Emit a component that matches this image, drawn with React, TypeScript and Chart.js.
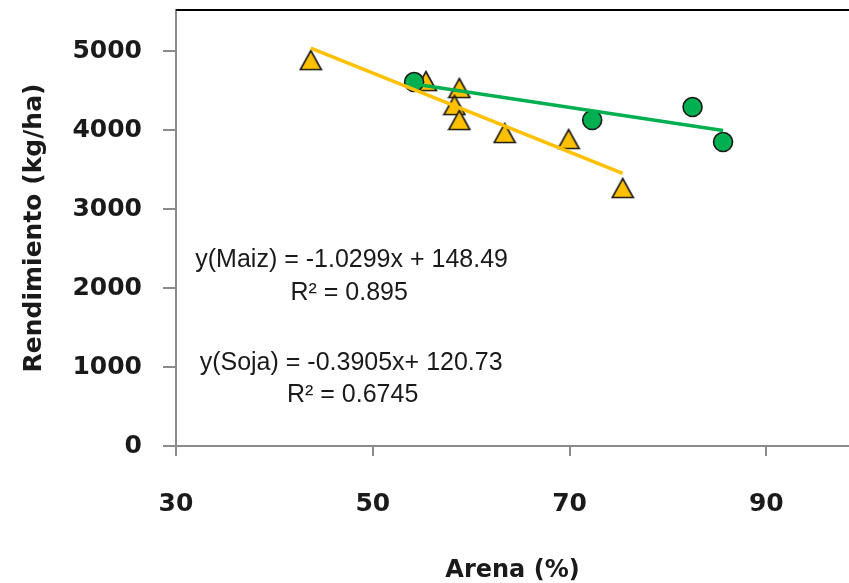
import React, { useEffect, useRef } from "react";
import { Chart, registerables } from "chart.js";

Chart.register(...registerables);

// Maiz (triangles)
const maizX = [43.7, 55.4, 58.8, 58.3, 58.8, 63.4, 69.9, 75.4];
const maizY = [4886, 4620, 4532, 4316, 4127, 3962, 3886, 3266];
// Soja (circles)
const sojaX = [54.2, 72.3, 82.5, 85.6];
const sojaY = [4608, 4127, 4291, 3848];

const xTicks = [30, 50, 70, 90];
const yTicks = [0, 1000, 2000, 3000, 4000, 5000];

const eqTexts = [
  "y(Maiz) = -1.0299x + 148.49",
  "R² = 0.895",
  "y(Soja) = -0.3905x+ 120.73",
  "R² = 0.6745",
];
const eqX = [47.85, 47.6, 47.8, 47.95];
const eqY = [2354, 1937, 1051, 646];

const X_MIN = 30;
const X_MAX = 98.4;
const Y_MIN = 0;
const Y_MAX = 5520;

function fitLine(xs: number[], ys: number[]) {
  const n = xs.length;
  const mx = xs.reduce((a, b) => a + b, 0) / n;
  const my = ys.reduce((a, b) => a + b, 0) / n;
  let sxy = 0;
  let sxx = 0;
  for (let i = 0; i < n; i++) {
    sxy += (xs[i] - mx) * (ys[i] - my);
    sxx += (xs[i] - mx) * (xs[i] - mx);
  }
  const b = sxy / sxx;
  const a = my - b * mx;
  const x0 = Math.min(...xs);
  const x1 = Math.max(...xs);
  return [
    { x: x0, y: a + b * x0 },
    { x: x1, y: a + b * x1 },
  ];
}

function makeTriangle(): HTMLCanvasElement {
  const c = document.createElement("canvas");
  c.width = 24;
  c.height = 22;
  const g = c.getContext("2d")!;
  g.beginPath();
  g.moveTo(12, 1.5);
  g.lineTo(22.5, 20.5);
  g.lineTo(1.5, 20.5);
  g.closePath();
  g.fillStyle = "#FFC000";
  g.fill();
  g.lineWidth = 1.6;
  g.strokeStyle = "#1a1a1a";
  g.lineJoin = "miter";
  g.stroke();
  return c;
}

const annotPlugin = {
  id: "annot",
  afterDraw(chart: any) {
    const { ctx, chartArea, scales } = chart;
    ctx.save();
    ctx.strokeStyle = "#000";
    ctx.lineWidth = 2;
    ctx.beginPath();
    ctx.moveTo(chartArea.left, chartArea.top);
    ctx.lineTo(chartArea.right, chartArea.top);
    ctx.stroke();
    ctx.font = '25px "Liberation Sans"';
    ctx.fillStyle = "#1a1a1a";
    ctx.textAlign = "center";
    ctx.textBaseline = "middle";
    for (let i = 0; i < eqTexts.length; i++) {
      ctx.fillText(
        eqTexts[i],
        scales.x.getPixelForValue(eqX[i]),
        scales.y.getPixelForValue(eqY[i])
      );
    }
    ctx.restore();
  },
};

export default function App() {
  const ref = useRef<HTMLCanvasElement | null>(null);
  useEffect(() => {
    if (!ref.current) return;
    const tri = makeTriangle();
    const tickFont = { family: "DejaVu Sans", weight: "bold" as const, size: 25 };
    const chart = new Chart(ref.current, {
      type: "scatter",
      data: {
        datasets: [
          {
            label: "Tendencia Soja",
            data: fitLine(sojaX, sojaY),
            showLine: true,
            borderColor: "#00B050",
            borderWidth: 3.5,
            pointRadius: 0,
            order: 0,
          },
          {
            label: "Tendencia Maiz",
            data: fitLine(maizX, maizY),
            showLine: true,
            borderColor: "#FFC000",
            borderWidth: 3.5,
            pointRadius: 0,
            order: 1,
          },
          {
            label: "Soja",
            data: sojaX.map((x, i) => ({ x, y: sojaY[i] })),
            pointStyle: "circle",
            pointRadius: 9.5,
            backgroundColor: "#00B050",
            borderColor: "#1a1a1a",
            borderWidth: 1.6,
            order: 2,
          },
          {
            label: "Maiz",
            data: maizX.map((x, i) => ({ x, y: maizY[i] })),
            pointStyle: tri as any,
            pointRadius: 10,
            order: 3,
          },
        ],
      },
      options: {
        responsive: false,
        animation: false,
        events: [],
        layout: { autoPadding: false, padding: { top: 10, left: 0, right: 0, bottom: 0 } },
        plugins: {
          legend: { display: false },
          tooltip: { enabled: false },
        },
        scales: {
          x: {
            type: "linear",
            min: X_MIN,
            max: X_MAX,
            afterBuildTicks: (s: any) => {
              s.ticks = xTicks.map((v) => ({ value: v }));
            },
            afterFit: (s: any) => {
              s.height = 137;
              s.paddingLeft = 0;
              s.paddingRight = 0;
            },
            grid: {
              display: true,
              drawOnChartArea: false,
              drawTicks: true,
              tickLength: 10,
              color: "#8a8a8a",
              lineWidth: 2,
            },
            border: { display: true, color: "#8a8a8a", width: 2 },
            ticks: {
              font: tickFont,
              color: "#1a1a1a",
              padding: 33,
              maxRotation: 0,
              autoSkip: false,
              callback: (v: any) => String(v),
            },
            title: {
              display: true,
              text: "Arena (%)",
              font: { family: "DejaVu Sans", weight: "bold", size: 24, lineHeight: 1 },
              color: "#1a1a1a",
              padding: { top: 0, bottom: 0 },
            },
          },
          y: {
            type: "linear",
            min: Y_MIN,
            max: Y_MAX,
            afterBuildTicks: (s: any) => {
              s.ticks = yTicks.map((v) => ({ value: v }));
            },
            afterFit: (s: any) => {
              s.width = 176;
              s.paddingTop = 0;
              s.paddingBottom = 0;
            },
            grid: {
              display: true,
              drawOnChartArea: false,
              drawTicks: true,
              tickLength: 13,
              color: "#8a8a8a",
              lineWidth: 2,
            },
            border: { display: true, color: "#8a8a8a", width: 2 },
            ticks: {
              font: tickFont,
              color: "#1a1a1a",
              padding: 21,
              autoSkip: false,
              callback: (v: any) => String(v),
            },
            title: {
              display: true,
              text: "Rendimiento (kg/ha)",
              font: { family: "DejaVu Sans", weight: "bold", size: 25, lineHeight: 1 },
              color: "#1a1a1a",
              padding: { top: 22, bottom: 0 },
            },
          },
        },
      },
      plugins: [annotPlugin],
    });
    return () => chart.destroy();
  }, []);
  return (
    <div style={{ position: "absolute", left: 0, top: 0, width: 849, height: 583, background: "#fff" }}>
      <canvas ref={ref} width={849} height={583} style={{ display: "block" }} />
    </div>
  );
}
